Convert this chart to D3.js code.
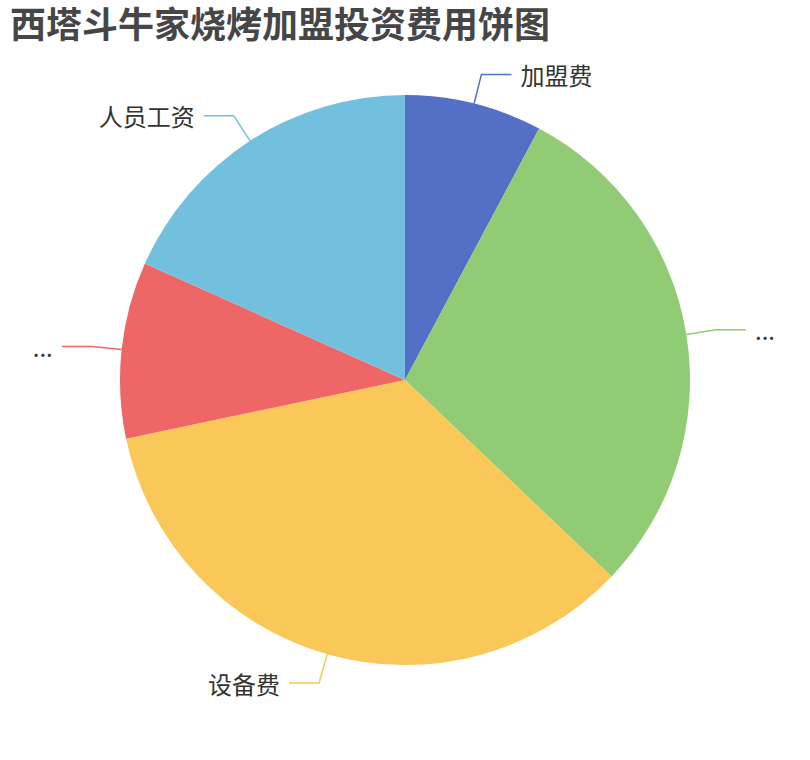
<!DOCTYPE html>
<html>
<head>
<meta charset="utf-8">
<script src="https://cdn.jsdelivr.net/npm/d3@7"></script>
<style>
  body { margin: 0; background: #fff; }
  svg { font-family: "Noto Sans CJK SC", "Noto Sans", sans-serif; }
  .title { font-size: 36px; font-weight: bold; fill: #464646; }
  .label { font-size: 24px; fill: #333; }
  .labelline { fill: none; stroke-width: 1.5; }
</style>
</head>
<body>
<svg width="810" height="760"></svg>
<script>
// slices clockwise from 12 o'clock
const categories = ['加盟费', '...', '设备费', '...', '人员工资'];
const values = [7.8, 29.3, 34.6, 10.0, 18.3];
const colors = ['#5470c6', '#91cc75', '#fac858', '#ee6666', '#73c0de'];

const W = 810, H = 760;
const cx = 405, cy = 380, R = 285;
const len1 = 30, len2 = 30;

const svg = d3.select('svg');

svg.append('text')
    .classed('title', true)
    .attr('x', 10)
    .attr('y', 38)
    .text('西塔斗牛家烧烤加盟投资费用饼图');

const data = categories.map((name, i) => ({ name, value: values[i], color: colors[i] }));

const pie = d3.pie().sort(null).value(d => d.value);
const arcs = pie(data);

const arc = d3.arc().innerRadius(0).outerRadius(R);
const edgeArc = d3.arc().innerRadius(R).outerRadius(R);
const elbowArc = d3.arc().innerRadius(R + len1).outerRadius(R + len1);

const g = svg.append('g').attr('transform', `translate(${cx},${cy})`);

g.selectAll('.slice')
    .data(arcs)
    .enter()
    .append('path')
    .classed('slice', true)
    .attr('d', arc)
    .attr('fill', d => d.data.color);

// label lines: radial piece then horizontal piece
g.selectAll('.labelline')
    .data(arcs)
    .enter()
    .append('polyline')
    .classed('labelline', true)
    .attr('stroke', d => d.data.color)
    .attr('points', d => {
        const p0 = edgeArc.centroid(d);
        const p1 = elbowArc.centroid(d);
        const side = p1[0] >= 0 ? 1 : -1;
        const p2 = [p1[0] + side * len2, p1[1]];
        return [p0, p1, p2].map(p => p.join(',')).join(' ');
    });

g.selectAll('.label')
    .data(arcs)
    .enter()
    .append('text')
    .classed('label', true)
    .attr('x', d => {
        const p1 = elbowArc.centroid(d);
        const side = p1[0] >= 0 ? 1 : -1;
        return p1[0] + side * (len2 + 9);
    })
    .attr('y', d => elbowArc.centroid(d)[1])
    .attr('dominant-baseline', 'central')
    .attr('text-anchor', d => elbowArc.centroid(d)[0] >= 0 ? 'start' : 'end')
    .text(d => d.data.name);
</script>
</body>
</html>
